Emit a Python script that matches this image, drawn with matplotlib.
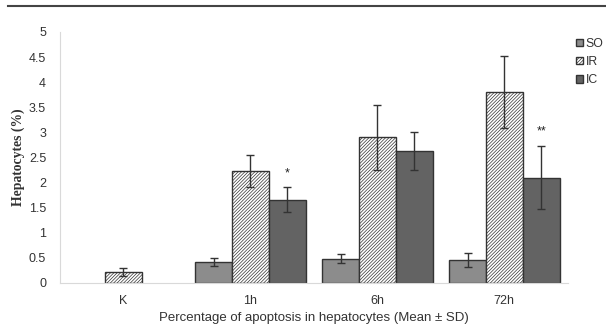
import matplotlib.pyplot as plt
import numpy as np
from matplotlib.lines import Line2D

categories = ["K", "1h", "6h", "72h"]
so_mean = [0, 0.42, 0.48, 0.46]
so_sd = [0, 0.08, 0.09, 0.14]
ir_mean = [0.22, 2.23, 2.90, 3.80]
ir_sd = [0.08, 0.32, 0.64, 0.72]
ic_mean = [0, 1.66, 2.63, 2.10]
ic_sd = [0, 0.25, 0.38, 0.63]
marks = ["", "*", "", "**"]

plt.rcParams["font.family"] = ["Liberation Sans", "DejaVu Sans"]
plt.rcParams["hatch.color"] = "#777777"
plt.rcParams["hatch.linewidth"] = 0.5

fig = plt.figure(figsize=(6.06, 3.26), dpi=100)
ax = fig.add_axes([0.099, 0.132, 0.838, 0.770])

x = np.arange(len(categories))
w = 0.29
err_kw = dict(ecolor="#333333", elinewidth=1.0, capsize=3, capthick=1.0)

so = [v if v > 0 else np.nan for v in so_mean]
ic = [v if v > 0 else np.nan for v in ic_mean]
ax.bar(x - w, so, w, yerr=[s if s > 0 else np.nan for s in so_sd],
       color="#8c8c8c", edgecolor="#333333", linewidth=1.0, error_kw=err_kw, label="SO")
ax.bar(x, ir_mean, w, yerr=ir_sd, color="white", edgecolor="#333333", hatch="//////////",
       linewidth=1.0, error_kw=err_kw, label="IR")
ax.bar(x + w, ic, w, yerr=[s if s > 0 else np.nan for s in ic_sd],
       color="#636363", edgecolor="#333333", linewidth=1.0, error_kw=err_kw, label="IC")

for i, m in enumerate(marks):
    if m:
        ax.text(x[i] + w, ic_mean[i] + ic_sd[i] + 0.28, m, ha="center", va="center",
                fontsize=9, color="#222222")

ax.set_xlim(-0.5, 3.5)
ax.set_ylim(0, 5)
ax.set_yticks(np.arange(0, 5.01, 0.5))
ax.set_yticklabels(["0", "0.5", "1", "1.5", "2", "2.5", "3", "3.5", "4", "4.5", "5"])
ax.set_xticks(x)
ax.set_xticklabels(categories)
ax.tick_params(length=0, labelsize=9, colors="#333333")
ax.tick_params(axis="y", pad=10)
ax.tick_params(axis="x", pad=9)
for s in ["top", "right"]:
    ax.spines[s].set_visible(False)
ax.spines["left"].set_color("#d9d9d9")
ax.spines["bottom"].set_color("#d9d9d9")

ax.set_ylabel("Hepatocytes (%)", family="Liberation Serif", fontweight="bold",
              fontsize=9.8, color="#333333", labelpad=3)
ax.set_xlabel("Percentage of apoptosis in hepatocytes (Mean ± SD)", fontsize=9.5,
              color="#333333", labelpad=3)

leg = ax.legend(loc="upper left", bbox_to_anchor=(0.995, 1.02), frameon=False,
                fontsize=8.8, handlelength=0.55, handleheight=0.55, handletextpad=0.2,
                labelspacing=0.5)
for t in leg.get_texts():
    t.set_color("#333333")

fig.add_artist(Line2D([0.013, 1.0], [0.982, 0.982], color="#444444", linewidth=1.5))

fig.savefig("out.png", dpi=100)
